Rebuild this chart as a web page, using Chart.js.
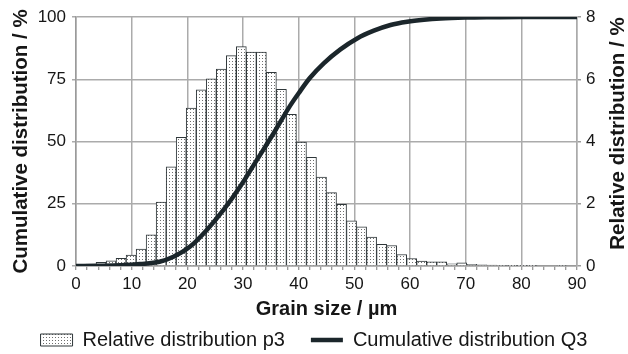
<!DOCTYPE html>
<html><head><meta charset="utf-8">
<script src="https://cdn.jsdelivr.net/npm/chart.js@4"></script>
<style>html,body{margin:0;padding:0;background:#fff}#wrap{width:628px;height:354px}</style>
</head><body><div id="wrap"><canvas id="c" width="628" height="354"></canvas></div>
<script>
// ---- data ----
const binLabels = ['0.9','2.7','4.5','6.3','8.1','9.9','11.7','13.5','15.3','17.1','18.9','20.7','22.5','24.3','26.1','27.9','29.7','31.5','33.3','35.1','36.9','38.7','40.5','42.3','44.1','45.9','47.7','49.5','51.3','53.1','54.9','56.7','58.5','60.3','62.1','63.9','65.7','67.5','69.3','71.1','72.9','74.7','76.5','78.3','80.1','81.9','83.7','85.5','87.3','89.1'];
const relDist = [0.02,0.06,0.12,0.17,0.25,0.35,0.54,1.00,2.05,3.19,4.13,5.07,5.66,6.01,6.33,6.76,7.05,6.87,6.87,6.22,5.68,4.87,3.98,3.49,2.86,2.36,1.98,1.45,1.26,0.93,0.70,0.66,0.37,0.24,0.16,0.13,0.13,0.07,0.10,0.05,0.04,0.03,0.02,0.01,0.01,0.01,0.00,0.00,0.02,0.00];
const cumX = [0,4,8,11.5,15,17.5,20.5,23.5,26.5,29.5,32.5,35.5,38.5,40,42,44.5,47.5,50.5,53.5,56.5,59.5,62.5,65.5,70,75,80,90];
const cumY = [0,0.1,0.3,0.8,1.7,3.7,7.8,14.5,22.5,31.9,42.6,53.3,64.5,69.4,75.5,81.4,87,91.4,94.5,96.8,98.1,98.9,99.4,99.75,99.9,100,100];
const xTickLabels = [0,10,20,30,40,50,60,70,80,90];
const leftTicks = [0,25,50,75,100];
const rightTicks = [0,2,4,6,8];
const rightTitle = 'Relative distribution / %';

// ---- styles ----
const FONT = "'Liberation Sans', Arial, Helvetica, sans-serif";
const textColor = '#161616';
const gridColor = '#ababab';
const barBorder = '#2e3639';
const lineColor = '#1b262b';
Chart.defaults.font.family = FONT;
Chart.defaults.color = textColor;

const canvas = document.getElementById('c');
const ctx = canvas.getContext('2d');
const pc = document.createElement('canvas');
pc.width = 3; pc.height = 3;
const pg = pc.getContext('2d');
pg.fillStyle = '#ffffff'; pg.fillRect(0,0,3,3);
pg.fillStyle = '#6e6e6e'; pg.fillRect(1,1,1,1);
const dotPattern = ctx.createPattern(pc, 'repeat');

// right axis title reads bottom-to-top like the left one
const rightTitlePlugin = {
  id: 'rightTitle',
  afterDraw(chart) {
    const s = chart.scales.yR;
    const c = chart.ctx;
    c.save();
    c.font = 'bold 20.5px ' + FONT;
    c.fillStyle = textColor;
    c.textAlign = 'center';
    c.textBaseline = 'alphabetic';
    c.translate(s.right - 4.5, (s.top + s.bottom) / 2 - 8);
    c.rotate(-Math.PI / 2);
    c.fillText(rightTitle, 0, 0);
    c.restore();
  }
};

new Chart(ctx, {
  type: 'bar',
  data: {
    labels: binLabels,
    datasets: [
      {
        type: 'bar',
        label: 'Relative distribution p3',
        data: relDist,
        xAxisID: 'xb',
        yAxisID: 'yR',
        backgroundColor: dotPattern,
        borderColor: barBorder,
        borderWidth: 1,
        barPercentage: 1,
        categoryPercentage: 1,
        grouped: false,
        order: 2
      },
      {
        type: 'line',
        label: 'Cumulative distribution Q3',
        data: cumX.map((x, i) => ({x: x, y: cumY[i]})),
        xAxisID: 'x',
        yAxisID: 'y',
        borderColor: lineColor,
        backgroundColor: lineColor,
        borderWidth: 4.5,
        pointRadius: 0,
        fill: false,
        cubicInterpolationMode: 'monotone',
        order: 1
      }
    ]
  },
  plugins: [rightTitlePlugin],
  options: {
    responsive: false,
    animation: false,
    devicePixelRatio: 1,
    datasets: { bar: { barPercentage: 1, categoryPercentage: 1, grouped: false } },
    layout: { padding: { top: 17, left: 0, right: 0, bottom: 0 } },
    plugins: {
      tooltip: { enabled: false },
      legend: {
        position: 'bottom',
        maxHeight: 50,
        labels: {
          usePointStyle: true,
          pointStyleWidth: 32,
          boxHeight: 12,
          padding: 26,
          color: textColor,
          font: { size: 20, family: FONT },
          generateLabels: chart => {
            const items = Chart.defaults.plugins.legend.labels.generateLabels(chart);
            items.sort((a, b) => a.datasetIndex - b.datasetIndex);
            items.forEach(it => {
              if (it.datasetIndex === 0) {
                it.pointStyle = 'rect'; it.fillStyle = dotPattern; it.strokeStyle = barBorder; it.lineWidth = 1;
              } else {
                it.pointStyle = 'line'; it.fillStyle = lineColor; it.strokeStyle = lineColor; it.lineWidth = 4.5;
              }
            });
            return items;
          }
        }
      }
    },
    scales: {
      xb: {
        type: 'category',
        labels: binLabels,
        offset: true,
        display: false,
        grid: { offset: true }
      },
      x: {
        type: 'linear',
        position: 'bottom',
        min: 0, max: 90,
        offset: false,
        ticks: {
          stepSize: 2,
          autoSkip: false,
          maxRotation: 0,
          padding: 4,
          color: textColor,
          font: { size: 17 },
          callback: v => xTickLabels.includes(v) ? String(v) : ''
        },
        grid: {
          offset: false,
          lineWidth: 1.5,
          color: c => (c.tick && xTickLabels.includes(c.tick.value)) ? gridColor : 'rgba(0,0,0,0)',
          tickColor: '#7a7a7a',
          tickWidth: 1,
          tickLength: 4
        },
        border: { color: '#9a9a9a', width: 1.5 },
        title: {
          display: true,
          text: 'Grain size / µm',
          color: textColor,
          font: { size: 20, weight: 'bold' },
          padding: { top: 0, bottom: -17 }
        },
        afterFit: s => { s.height = 38; }
      },
      y: {
        type: 'linear',
        position: 'left',
        min: 0, max: 100,
        afterBuildTicks: s => { s.ticks = leftTicks.map(v => ({value: v})); },
        ticks: { padding: 6, color: textColor, font: { size: 17 } },
        grid: { color: gridColor, lineWidth: 1.5, tickLength: 4, tickColor: gridColor },
        border: { color: '#9a9a9a', width: 1.5 },
        title: {
          display: true,
          text: 'Cumulative distribution / %',
          color: textColor,
          font: { size: 20.5, weight: 'bold' },
          padding: { top: 9, bottom: 0 }
        },
        afterFit: s => { s.width = 76; }
      },
      yR: {
        type: 'linear',
        position: 'right',
        min: 0, max: 8,
        afterBuildTicks: s => { s.ticks = rightTicks.map(v => ({value: v})); },
        ticks: { padding: 5, color: textColor, font: { size: 17 } },
        grid: { drawOnChartArea: false, lineWidth: 1.5, tickLength: 4, tickColor: '#9a9a9a' },
        border: { color: gridColor, width: 1.5 },
        title: { display: false },
        afterFit: s => { s.width = 51; }
      }
    }
  }
});
</script>
</body></html>
